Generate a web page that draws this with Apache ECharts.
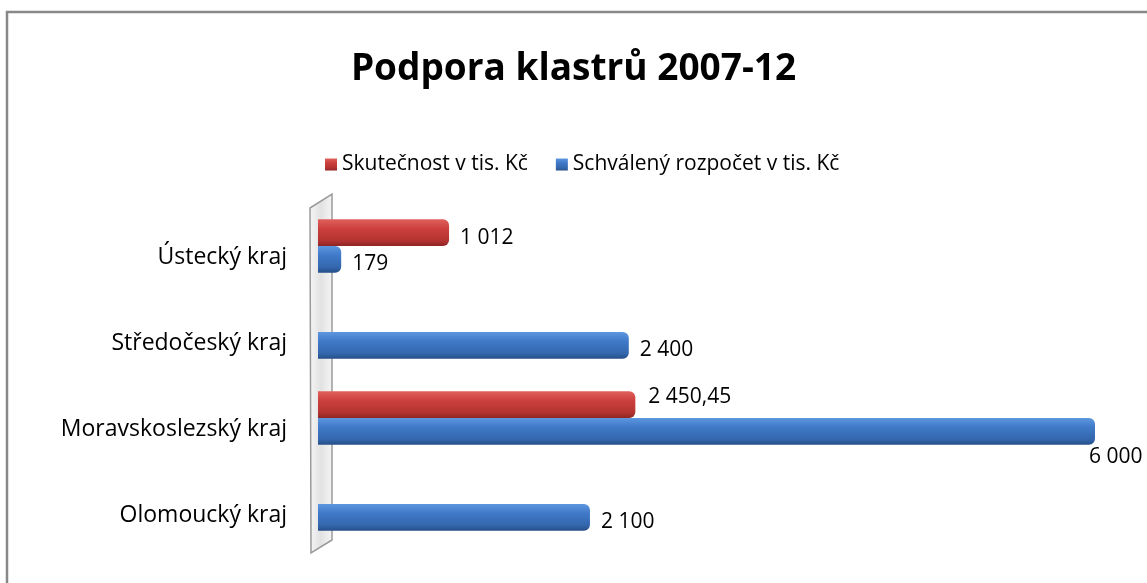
<!DOCTYPE html>
<html>
<head>
<meta charset="utf-8">
<script src="https://cdn.jsdelivr.net/npm/echarts@6/dist/echarts.min.js"></script>
<style>
html, body { margin: 0; padding: 0; background: #fff; }
#chart { width: 1147px; height: 583px; }
</style>
</head>
<body>
<div id="chart"></div>
<script>
// data
var categories = ['Ústecký kraj', 'Středočeský kraj', 'Moravskoslezský kraj', 'Olomoucký kraj'];
var skutecnost = [1012, null, 2450.45, null];
var rozpocet = [179, 2400, 6000, 2100];
var seriesNames = ['Skutečnost v tis. Kč', 'Schválený rozpočet v tis. Kč'];

var FONT = 'Open Sans';

// cislo po cesku: mezera jako oddelovac tisicu, carka pro desetiny
function czNum(v) {
    var parts = String(v).split('.');
    var int = parts[0].replace(/\B(?=(\d{3})+(?!\d))/g, ' ');
    return parts.length > 1 ? int + ',' + parts[1] : int;
}

var redGrad = new echarts.graphic.LinearGradient(0, 0, 0, 1, [
    { offset: 0, color: '#e0605c' },
    { offset: 0.35, color: '#cc403d' },
    { offset: 0.8, color: '#b33331' },
    { offset: 1, color: '#8e2624' }
]);
var blueGrad = new echarts.graphic.LinearGradient(0, 0, 0, 1, [
    { offset: 0, color: '#5d97e0' },
    { offset: 0.35, color: '#3f79c8' },
    { offset: 0.8, color: '#3467ad' },
    { offset: 1, color: '#264f88' }
]);

var labelStyle = {
    show: true,
    position: 'right',
    distance: 11,
    offset: [0, 5],
    fontFamily: FONT,
    fontSize: 21,
    color: '#000',
    formatter: function (p) { return czNum(p.value); }
};

var redData = skutecnost.map(function (v, i) {
    if (i === 2) return { value: v, label: { offset: [2, -8] } };
    return v;
});
var blueData = rozpocet.map(function (v, i) {
    if (i === 2) return { value: v, label: { offset: [-17, 26] } };
    return v;
});

var chart = echarts.init(document.getElementById('chart'));
chart.setOption({
    backgroundColor: '#fff',
    animation: false,
    title: {
        text: 'Podpora klastrů 2007-12',
        left: 'center',
        top: 46,
        textStyle: { fontFamily: FONT, fontWeight: 'bold', fontSize: 37, color: '#000' }
    },
    legend: {
        data: seriesNames,
        top: 149,
        left: 320,
        itemWidth: 12,
        itemHeight: 12,
        itemGap: 28,
        icon: 'rect',
        textStyle: { fontFamily: FONT, fontSize: 21, color: '#000' }
    },
    grid: { left: 318, right: 52, top: 203, height: 344, containLabel: false },
    xAxis: {
        type: 'value',
        min: 0,
        max: 6000,
        show: false
    },
    yAxis: {
        type: 'category',
        data: categories,
        inverse: true,
        axisLine: { show: false },
        axisTick: { show: false },
        axisLabel: {
            fontFamily: FONT,
            fontSize: 23,
            color: '#000',
            margin: 31,
            verticalAlign: 'top'
        }
    },
    graphic: [
        {
            type: 'rect',
            shape: { x: 7, y: 12, width: 1200, height: 700 },
            style: { fill: 'none', stroke: '#888', lineWidth: 2.5 },
            silent: true
        },
        {
            type: 'polygon',
            shape: { points: [[310, 208], [332, 194], [332, 540], [311, 553]] },
            style: {
                fill: new echarts.graphic.LinearGradient(0, 0, 1, 0, [
                    { offset: 0, color: '#f6f6f6' },
                    { offset: 0.5, color: '#e2e2e2' },
                    { offset: 1, color: '#f6f6f6' }
                ]),
                stroke: '#9a9a9a',
                lineWidth: 1.5
            },
            z: 0,
            silent: true
        }
    ],
    series: [
        {
            name: seriesNames[0],
            type: 'bar',
            data: redData,
            barGap: '0%',
            barCategoryGap: '38%',
            itemStyle: { color: redGrad, borderRadius: [0, 6, 6, 0] },
            label: labelStyle,
            z: 3
        },
        {
            name: seriesNames[1],
            type: 'bar',
            data: blueData,
            barGap: '0%',
            barCategoryGap: '38%',
            itemStyle: { color: blueGrad, borderRadius: [0, 6, 6, 0] },
            label: labelStyle,
            z: 3
        }
    ]
});
</script>
</body>
</html>
